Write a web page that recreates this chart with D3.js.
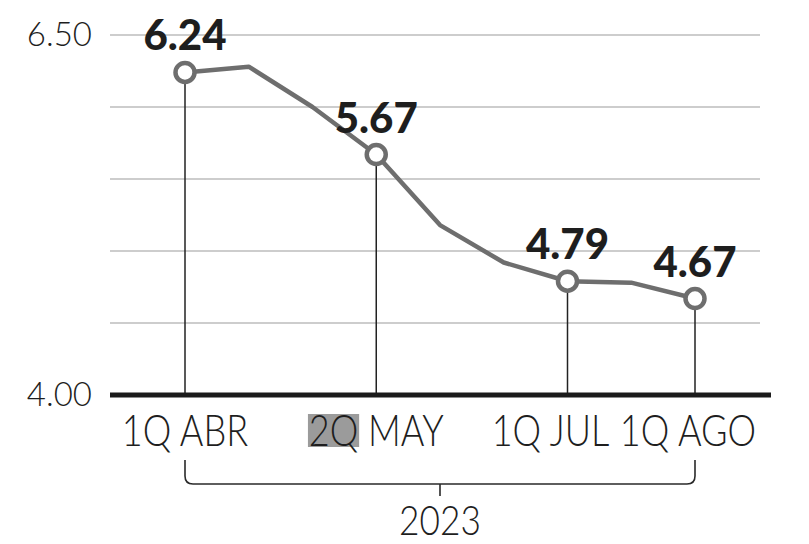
<!DOCTYPE html>
<html>
<head>
<meta charset="utf-8">
<script src="https://cdn.jsdelivr.net/npm/d3@7"></script>
<style>
html,body{margin:0;padding:0;background:#fff}
svg{display:block}
</style>
</head>
<body>
<div id="chart"></div>
<script>

const periods=["1Q ABR","2Q ABR","1Q MAY","2Q MAY","1Q JUN","2Q JUN","1Q JUL","2Q JUL","1Q AGO"]
const values=[6.24,6.28,6.00,5.67,5.18,4.92,4.79,4.78,4.67]
const marked=["1Q ABR","2Q MAY","1Q JUL","1Q AGO"]
const gridTicks=[4,4.5,5,5.5,6,6.5]
const yLabels=[4,6.5]
const yearLabel="2023"

const width=809
const height=544

const svg=d3.select("#chart")
.append("svg")
.attr("width",width)
.attr("height",height)

const x=d3.scalePoint()
.domain(periods)
.range([185,695])

const y=d3.scaleLinear()
.domain([4,6.5])
.range([395,35])

const data=periods.map((p,i)=>({period:p,value:values[i]}))
const markedData=data.filter(d=>marked.includes(d.period))

// grid
svg.append("g")
.selectAll("line")
.data(gridTicks.filter(t=>t>4))
.enter()
.append("line")
.attr("x1",110)
.attr("x2",760)
.attr("y1",d=>y(d))
.attr("y2",d=>y(d))
.attr("stroke","#bcbcbc")
.attr("stroke-width",1.6)

// y labels
svg.append("g")
.selectAll("text")
.data(yLabels)
.enter()
.append("text")
.attr("x",92)
.attr("y",d=>y(d)+11)
.attr("text-anchor","end")
.attr("font-family","Lato")
.attr("font-weight",300)
.attr("font-size","33px")
.attr("fill","#1e1e1e")
.text(d=>d3.format(".2f")(d))

// drop lines
svg.append("g")
.selectAll("line")
.data(markedData)
.enter()
.append("line")
.attr("x1",d=>x(d.period))
.attr("x2",d=>x(d.period))
.attr("y1",d=>y(d.value)+10)
.attr("y2",y(4))
.attr("stroke","#222")
.attr("stroke-width",1.5)

// baseline
svg.append("line")
.attr("x1",110)
.attr("x2",771)
.attr("y1",y(4))
.attr("y2",y(4))
.attr("stroke","#1b1b1b")
.attr("stroke-width",5)

// line
const line=d3.line()
.x(d=>x(d.period))
.y(d=>y(d.value))

svg.append("path")
.datum(data)
.attr("d",line)
.attr("fill","none")
.attr("stroke","#6e6e6e")
.attr("stroke-width",4.5)
.attr("stroke-linejoin","round")

// markers
svg.append("g")
.selectAll("circle")
.data(markedData)
.enter()
.append("circle")
.attr("cx",d=>x(d.period))
.attr("cy",d=>y(d.value))
.attr("r",9.5)
.attr("fill","#fff")
.attr("stroke","#6e6e6e")
.attr("stroke-width",4.5)

// value labels
svg.append("g")
.selectAll("text")
.data(markedData)
.enter()
.append("text")
.attr("x",d=>x(d.period))
.attr("y",d=>y(d.value)-22)
.attr("text-anchor","middle")
.attr("font-family","Lato")
.attr("font-weight",900)
.attr("font-size","42px")
.attr("fill","#1e1e1e")
.text(d=>d3.format(".2f")(d.value))

// category labels (nudged where they crowd)
const nudge={"1Q JUL":-17,"1Q AGO":-7}
const labelY=446
const squeeze=0.84

const tick=svg.append("g")
.selectAll("g")
.data(marked)
.enter()
.append("g")
.attr("transform",d=>"translate("+(x(d)+(nudge[d]||0))+","+labelY+") scale("+squeeze+",1)")

tick.each(function(d){
const g=d3.select(this)
const t=g.append("text")
.attr("text-anchor","middle")
.attr("font-family","Lato")
.attr("font-weight",300)
.attr("font-size","43px")
.attr("fill","#1e1e1e")
.text(d)
if(d.startsWith("2Q")){
const node=t.node()
const start=node.getStartPositionOfChar(0).x
const w=node.getSubStringLength(0,2)
g.insert("rect","text")
.attr("x",start-1)
.attr("y",-32)
.attr("width",w+2)
.attr("height",33)
.attr("fill","#9b9b9b")
}
})

// year bracket
const bx0=x(periods[0])
const bx1=x(periods[periods.length-1])
const bTop=460
const bBot=484
const rad=8
const bmid=(bx0+bx1)/2

const bracket=d3.path()
bracket.moveTo(bx0,bTop)
bracket.lineTo(bx0,bBot-rad)
bracket.quadraticCurveTo(bx0,bBot,bx0+rad,bBot)
bracket.lineTo(bx1-rad,bBot)
bracket.quadraticCurveTo(bx1,bBot,bx1,bBot-rad)
bracket.lineTo(bx1,bTop)
bracket.moveTo(bmid,bBot)
bracket.lineTo(bmid,bBot+12)

svg.append("path")
.attr("d",bracket.toString())
.attr("fill","none")
.attr("stroke","#2a2a2a")
.attr("stroke-width",1.6)

svg.append("g")
.attr("transform","translate("+bmid+",535) scale("+squeeze+",1)")
.append("text")
.attr("text-anchor","middle")
.attr("font-family","Lato")
.attr("font-weight",300)
.attr("font-size","42px")
.attr("fill","#1e1e1e")
.text(yearLabel)

</script>
</body>
</html>
